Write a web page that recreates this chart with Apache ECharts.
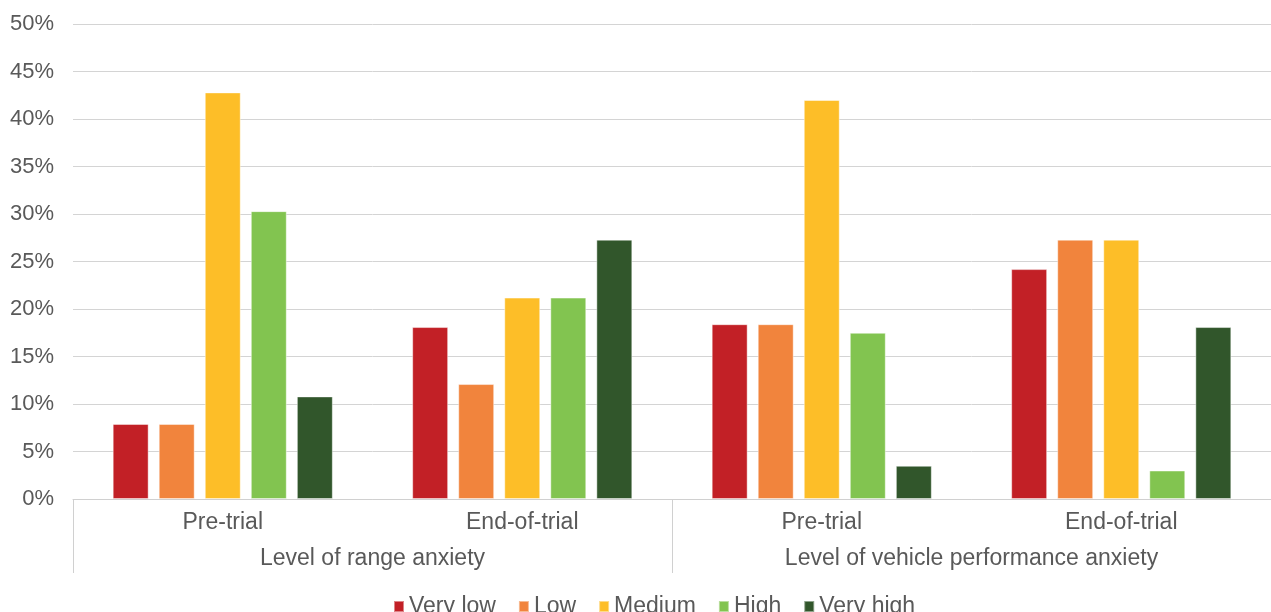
<!DOCTYPE html>
<html>
<head>
<meta charset="utf-8">
<script src="https://cdn.jsdelivr.net/npm/echarts@6/dist/echarts.min.js"></script>
<style>html,body{margin:0;padding:0;background:#fff}#c{width:1271px;height:612px}</style>
</head>
<body>
<div id="c"></div>
<script>
const subCategories = ['Pre-trial', 'End-of-trial', 'Pre-trial', 'End-of-trial'];
const groupCategories = ['Level of range anxiety', 'Level of vehicle performance anxiety'];
const seriesNames = ['Very low', 'Low', 'Medium', 'High', 'Very high'];
const veryLow = [7.9, 18.1, 18.4, 24.2];
const low = [7.9, 12.1, 18.4, 27.3];
const medium = [42.8, 21.2, 42.0, 27.3];
const high = [30.3, 21.2, 17.5, 3.0];
const veryHigh = [10.8, 27.3, 3.5, 18.1];
const yTicks = [0, 5, 10, 15, 20, 25, 30, 35, 40, 45, 50];

const colors = ['#C22026', '#F1843D', '#FDBE28', '#82C450', '#31562B'];
const values = [veryLow, low, medium, high, veryHigh];
const font = "'Liberation Sans', Arial, sans-serif";
const textColor = '#595959';

const chart = echarts.init(document.getElementById('c'));
chart.setOption({
  animation: false,
  textStyle: { fontFamily: font },
  grid: { left: 73, right: 0, top: 24, bottom: 113, containLabel: false },
  legend: {
    left: 388, top: 590,
    itemWidth: 10, itemHeight: 11, itemGap: 22,
    icon: 'rect',
    textStyle: { fontFamily: font, fontSize: 23, color: textColor },
    data: seriesNames
  },
  xAxis: [
    {
      type: 'category', data: subCategories, position: 'bottom',
      axisLine: { show: true, lineStyle: { color: '#d0d0d0', width: 1 } },
      axisTick: { show: false },
      axisLabel: { fontFamily: font, fontSize: 23, color: textColor, margin: 12 }
    },
    {
      type: 'category', data: groupCategories, position: 'bottom',
      axisLine: { show: false },
      axisTick: { show: true, length: 74, interval: 0, lineStyle: { color: '#d0d0d0', width: 1 } },
      axisLabel: { fontFamily: font, fontSize: 23, color: textColor, margin: 48 }
    }
  ],
  yAxis: {
    type: 'value', min: yTicks[0], max: yTicks[yTicks.length - 1], interval: 5,
    axisLine: { show: false }, axisTick: { show: false },
    axisLabel: { formatter: '{value}%', fontFamily: font, fontSize: 22, color: textColor, margin: 19 },
    splitLine: { lineStyle: { color: '#d4d4d4', width: 1 } }
  },
  series: seriesNames.map((name, i) => ({
    name, type: 'bar', xAxisIndex: 0, data: values[i],
    barCategoryGap: '26.5%', barGap: '28%',
    itemStyle: { color: colors[i], borderColor: 'rgba(255,255,255,0.45)', borderWidth: 1 }
  }))
});
</script>
</body>
</html>
